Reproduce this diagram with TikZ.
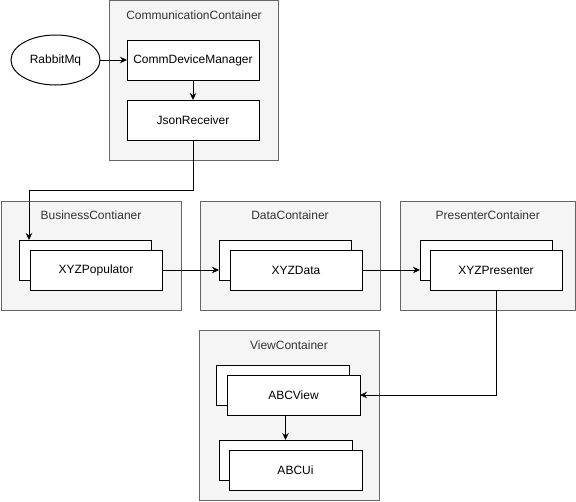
\documentclass[tikz,border=0pt]{standalone}
\usepackage{fontspec}
\setmainfont{Liberation Sans}
\usetikzlibrary{arrows.meta,shapes.geometric}
\definecolor{contfill}{HTML}{F5F5F5}
\definecolor{contdraw}{HTML}{666666}
\definecolor{conttext}{HTML}{333333}
\tikzset{
  base/.style={inner sep=0pt, outer sep=0pt, line width=1pt, font=\fontsize{12}{14}\selectfont},
  container/.style={base, draw=contdraw, fill=contfill, rectangle},
  ctitle/.style={base, text=conttext},
  box/.style={base, draw=black, fill=white, rectangle, minimum width=132pt, minimum height=40pt},
  ell/.style={base, draw=black, fill=white, ellipse, minimum width=89pt, minimum height=50pt},
  arr/.style={line width=1pt, -{Stealth[length=7pt,width=6.5pt]}},
}
\begin{document}
\begin{tikzpicture}[x=1pt,y=-1pt]
\useasboundingbox (0,0) rectangle (576,501);
% containers
\node[container, minimum width=169pt, minimum height=160pt] (comm) at (194,80.5) {};
\node[ctitle] (commt) at (194,15) {CommunicationContainer};
\node[container, minimum width=180pt, minimum height=109pt] (bus) at (91,255.5) {};
\node[ctitle] (bust) at (91,215) {BusinessContianer};
\node[container, minimum width=180pt, minimum height=109pt] (data) at (290,255.5) {};
\node[ctitle] (datat) at (290,215) {DataContainer};
\node[container, minimum width=175pt, minimum height=109pt] (pres) at (487.75,255.5) {};
\node[ctitle] (prest) at (487.75,215) {PresenterContainer};
\node[container, minimum width=180pt, minimum height=170pt] (view) at (289,415) {};
\node[ctitle] (viewt) at (289,345) {ViewContainer};
% communication
\node[ell] (rabbit) at (55.5,60) {RabbitMq};
\node[box] (cdm) at (193,60) {CommDeviceManager};
\node[box] (json) at (193,120) {JsonReceiver};
% stacks
\node[box] (popb) at (85,260) {};
\node[box] (popf) at (96,270) {XYZPopulator};
\node[box] (datab) at (285,260) {};
\node[box] (dataf) at (296,270) {XYZData};
\node[box] (presb) at (486,260) {};
\node[box] (presf) at (496,270) {XYZPresenter};
\node[box, minimum width=133pt] (viewb) at (283,385) {};
\node[box, minimum width=133pt] (viewf) at (293.5,395) {ABCView};
\node[box, minimum width=133pt] (uib) at (285.5,460) {};
\node[box, minimum width=133pt] (uif) at (295.5,470) {ABCUi};
% connectors
\draw[arr] (rabbit) -- (cdm);
\draw[arr] (cdm) -- (json);
\coordinate (bend1) at (29,190);
\draw[arr] (json.south) |- (bend1) -- (bend1 |- popb.north);
\draw[arr] (popf.east) -- (popf.east -| datab.west);
\draw[arr] (dataf.east) -- (dataf.east -| presb.west);
\draw[arr] (presf.south) |- (viewf.east);
\draw[arr] (uib.north |- viewf.south) -- (uib.north);
\end{tikzpicture}
\end{document}
